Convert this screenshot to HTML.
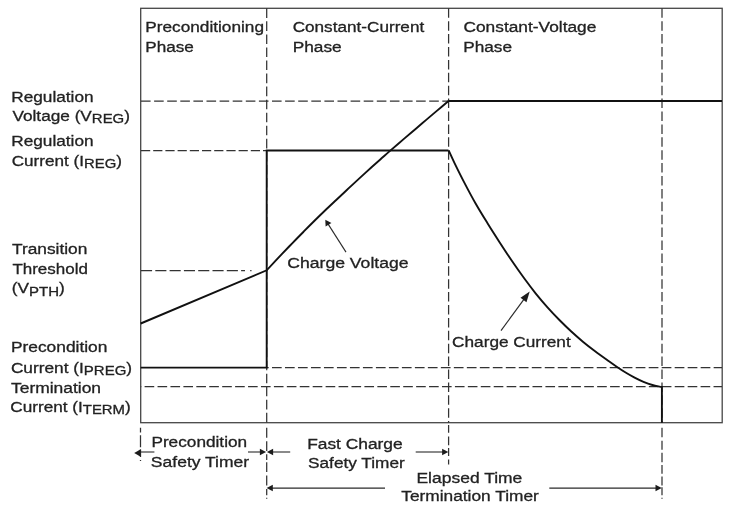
<!DOCTYPE html>
<html><head><meta charset="utf-8"><title>Charge profile</title>
<style>html,body{margin:0;padding:0;background:#fff;overflow:hidden}svg{display:block;filter:blur(.4px)}
text{font-family:"Liberation Sans",sans-serif;fill:#222;stroke:#222;stroke-width:.3px}</style></head><body>
<svg width="730" height="505" viewBox="0 0 730 505">
<rect width="730" height="505" fill="#fff"/>

<rect x="140.7" y="8.3" width="581.5" height="414.4" fill="none" stroke="#464646" stroke-width="1.3"/>
<g stroke="#333" stroke-width="1.25" fill="none">
<path d="M266.7 8.3V422.7" stroke-dasharray="9.6 3.45"/>
<path d="M448.6 8.3V422.7" stroke-dasharray="9.5 3.4"/>
<path d="M662 8.3V422.7" stroke-dasharray="9.5 3.4"/>
<path d="M140.5 427.7V432.6M140.5 435.3V447.3M140.5 449.5V457.1M140.5 459.9V460.9"/>
<path d="M266.7 427.8V437.8M266.7 441.3V451M266.7 454.3V460M266.7 462.2V472M266.7 475.6V485.4M266.7 488.9V495.2M266.7 497.8V498.8"/>
<path d="M448.6 425V432.8M448.6 436.4V445.3M448.6 448V456M448.6 459.6V464.6"/>
<path d="M662 427.8V437.3M662 440.8V449.8M662 452.8V462.2M662 464.9V473.8M662 476.5V485.4M662 487.2V495.2M662 497.8V498.8"/>
<path d="M141 101H448.5" stroke-dasharray="9.6 3.5"/>
<path d="M141 150.5H266.7" stroke-dasharray="9.2 3"/>
<path d="M141 270.5H245" stroke-dasharray="11.1 3.2"/>
<path d="M250.2 270.5h1.3"/>
<path d="M266.7 367.6H722" stroke-dasharray="9.7 3.29" stroke-dashoffset="7.7"/>
<path d="M140.7 386.7H722" stroke-dasharray="9.63 3.3" stroke-dashoffset="9.03"/>
</g>
<g stroke="#111" stroke-width="1.9" fill="none" stroke-linejoin="miter">
<path d="M448.5 101H722"/>
<path d="M140.7 367.6H266.7V150.5H448.5"/>
<path d="M140.7 323.5L266.7 270.3C269.22 267.62 277.47 258.78 281.8 254.2C286.13 249.62 289.07 246.55 292.7 242.8C296.33 239.05 299.97 235.37 303.6 231.7C307.23 228.03 310.88 224.37 314.5 220.8C318.12 217.23 321.68 213.77 325.3 210.3C328.92 206.83 332.57 203.42 336.2 200.0C339.83 196.58 343.47 193.20 347.1 189.8C350.73 186.40 353.88 183.40 358 179.6C362.12 175.80 367.68 170.72 371.8 167.0C375.92 163.28 379.62 160.03 382.7 157.3C385.78 154.57 386.67 153.75 390.3 150.6C393.93 147.45 400.33 141.97 404.5 138.4C408.67 134.83 411.68 132.28 415.3 129.2C418.92 126.12 422.57 123.00 426.2 119.9C429.83 116.80 433.38 113.75 437.1 110.6C440.82 107.45 446.60 102.60 448.5 101"/>
<path d="M448.7 150.5C449.63 152.52 451.78 157.42 454.3 162.6C456.82 167.78 460.25 174.78 463.8 181.6C467.35 188.42 471.65 196.57 475.6 203.5C479.55 210.43 483.53 216.80 487.5 223.2C491.47 229.60 495.40 235.72 499.4 241.9C503.40 248.08 507.43 254.32 511.5 260.3C515.57 266.28 519.78 272.30 523.8 277.8C527.82 283.30 531.65 288.38 535.6 293.3C539.55 298.22 543.53 302.85 547.5 307.3C551.47 311.75 555.43 315.97 559.4 320.0C563.37 324.03 567.33 327.85 571.3 331.5C575.27 335.15 579.23 338.62 583.2 341.9C587.17 345.18 591.05 348.15 595.1 351.2C599.15 354.25 603.90 357.62 607.5 360.2C611.10 362.78 613.68 364.65 616.7 366.7C619.72 368.75 622.62 370.68 625.6 372.5C628.58 374.32 631.62 376.05 634.6 377.6C637.58 379.15 640.53 380.57 643.5 381.8C646.47 383.03 649.73 384.20 652.4 385.0C655.07 385.80 657.92 386.28 659.5 386.6C661.08 386.92 661.50 386.85 661.9 386.9V422.7"/>
</g>
<path d="M346 252.1L327.99 223.91" stroke="#2a2a2a" stroke-width="1.1" fill="none"/><path d="M325.30 219.70L331.44 222.90L325.62 226.61z" fill="#1c1c1c"/>
<path d="M501 330.6L524.08 299.16" stroke="#2a2a2a" stroke-width="1.15" fill="none"/><path d="M529.70 291.50L526.47 302.15L520.50 297.78z" fill="#1c1c1c"/>
<path d="M154.4 452L139.70 452.00" stroke="#2a2a2a" stroke-width="1.1" fill="none"/><path d="M134.20 453.00L140.70 449.35L140.70 456.65z" fill="#1c1c1c"/>
<path d="M248 452L260.90 452.00" stroke="#2a2a2a" stroke-width="1.1" fill="none"/><path d="M266.10 452.00L259.90 455.25L259.90 448.75z" fill="#1c1c1c"/>
<path d="M290.2 452L272.10 452.00" stroke="#2a2a2a" stroke-width="1.1" fill="none"/><path d="M266.90 452.00L273.10 448.75L273.10 455.25z" fill="#1c1c1c"/>
<path d="M415.7 452L443.10 452.00" stroke="#2a2a2a" stroke-width="1.1" fill="none"/><path d="M448.30 452.00L442.10 455.25L442.10 448.75z" fill="#1c1c1c"/>
<path d="M385 488.1L271.80 488.10" stroke="#2a2a2a" stroke-width="1.1" fill="none"/><path d="M266.60 488.10L272.80 484.85L272.80 491.35z" fill="#1c1c1c"/>
<path d="M549.3 488.1L656.50 488.10" stroke="#2a2a2a" stroke-width="1.1" fill="none"/><path d="M661.70 488.10L655.50 491.35L655.50 484.85z" fill="#1c1c1c"/>
<text transform="translate(145.26 32.30) scale(1.1414 1)" font-size="15.1">Preconditioning</text>
<text transform="translate(145.24 52.30) scale(1.1344 1)" font-size="15.1">Phase</text>
<text transform="translate(292.63 32.30) scale(1.1364 1)" font-size="15.1">Constant-Current</text>
<text transform="translate(292.68 52.30) scale(1.1456 1)" font-size="15.1">Phase</text>
<text transform="translate(463.45 32.30) scale(1.1473 1)" font-size="15.1">Constant-Voltage</text>
<text transform="translate(463.27 52.30) scale(1.1398 1)" font-size="15.1">Phase</text>
<text transform="translate(287.36 268.10) scale(1.1644 1)" font-size="15.1">Charge Voltage</text>
<text transform="translate(452.10 346.60) scale(1.1400 1)" font-size="15.1">Charge Current</text>
<text transform="translate(11.22 101.80) scale(1.1412 1)" font-size="15.1">Regulation</text>
<text transform="translate(12.42 120.80) scale(1.1407 1)" font-size="15.1">Voltage (V<tspan font-size="13.1" dy="2.5">REG</tspan><tspan dy="-2.5">)</tspan></text>
<text transform="translate(11.22 146.10) scale(1.1412 1)" font-size="15.1">Regulation</text>
<text transform="translate(11.74 165.90) scale(1.1348 1)" font-size="15.1">Current (I<tspan font-size="13.1" dy="2.5">REG</tspan><tspan dy="-2.5">)</tspan></text>
<text transform="translate(11.96 254.00) scale(1.1463 1)" font-size="15.1">Transition</text>
<text transform="translate(12.38 273.50) scale(1.1251 1)" font-size="15.1">Threshold</text>
<text transform="translate(11.85 293.10) scale(1.1443 1)" font-size="15.1">(V<tspan font-size="13.1" dy="2.5">PTH</tspan><tspan dy="-2.5">)</tspan></text>
<text transform="translate(10.92 352.40) scale(1.1505 1)" font-size="15.1">Precondition</text>
<text transform="translate(10.88 372.50) scale(1.1449 1)" font-size="15.1">Current (I<tspan font-size="13.1" dy="2.5">PREG</tspan><tspan dy="-2.5">)</tspan></text>
<text transform="translate(11.00 392.70) scale(1.1551 1)" font-size="15.1">Termination</text>
<text transform="translate(10.33 411.60) scale(1.1377 1)" font-size="15.1">Current (I<tspan font-size="13.1" dy="2.5">TERM</tspan><tspan dy="-2.5">)</tspan></text>
<text transform="translate(151.40 447.40) scale(1.1419 1)" font-size="15.1">Precondition</text>
<text transform="translate(150.87 467.10) scale(1.1602 1)" font-size="15.1">Safety Timer</text>
<text transform="translate(307.15 448.60) scale(1.1499 1)" font-size="15.1">Fast Charge</text>
<text transform="translate(308.04 468.10) scale(1.1417 1)" font-size="15.1">Safety Timer</text>
<text transform="translate(416.47 482.80) scale(1.1575 1)" font-size="15.1">Elapsed Time</text>
<text transform="translate(401.27 500.70) scale(1.1466 1)" font-size="15.1">Termination Timer</text>
</svg></body></html>
